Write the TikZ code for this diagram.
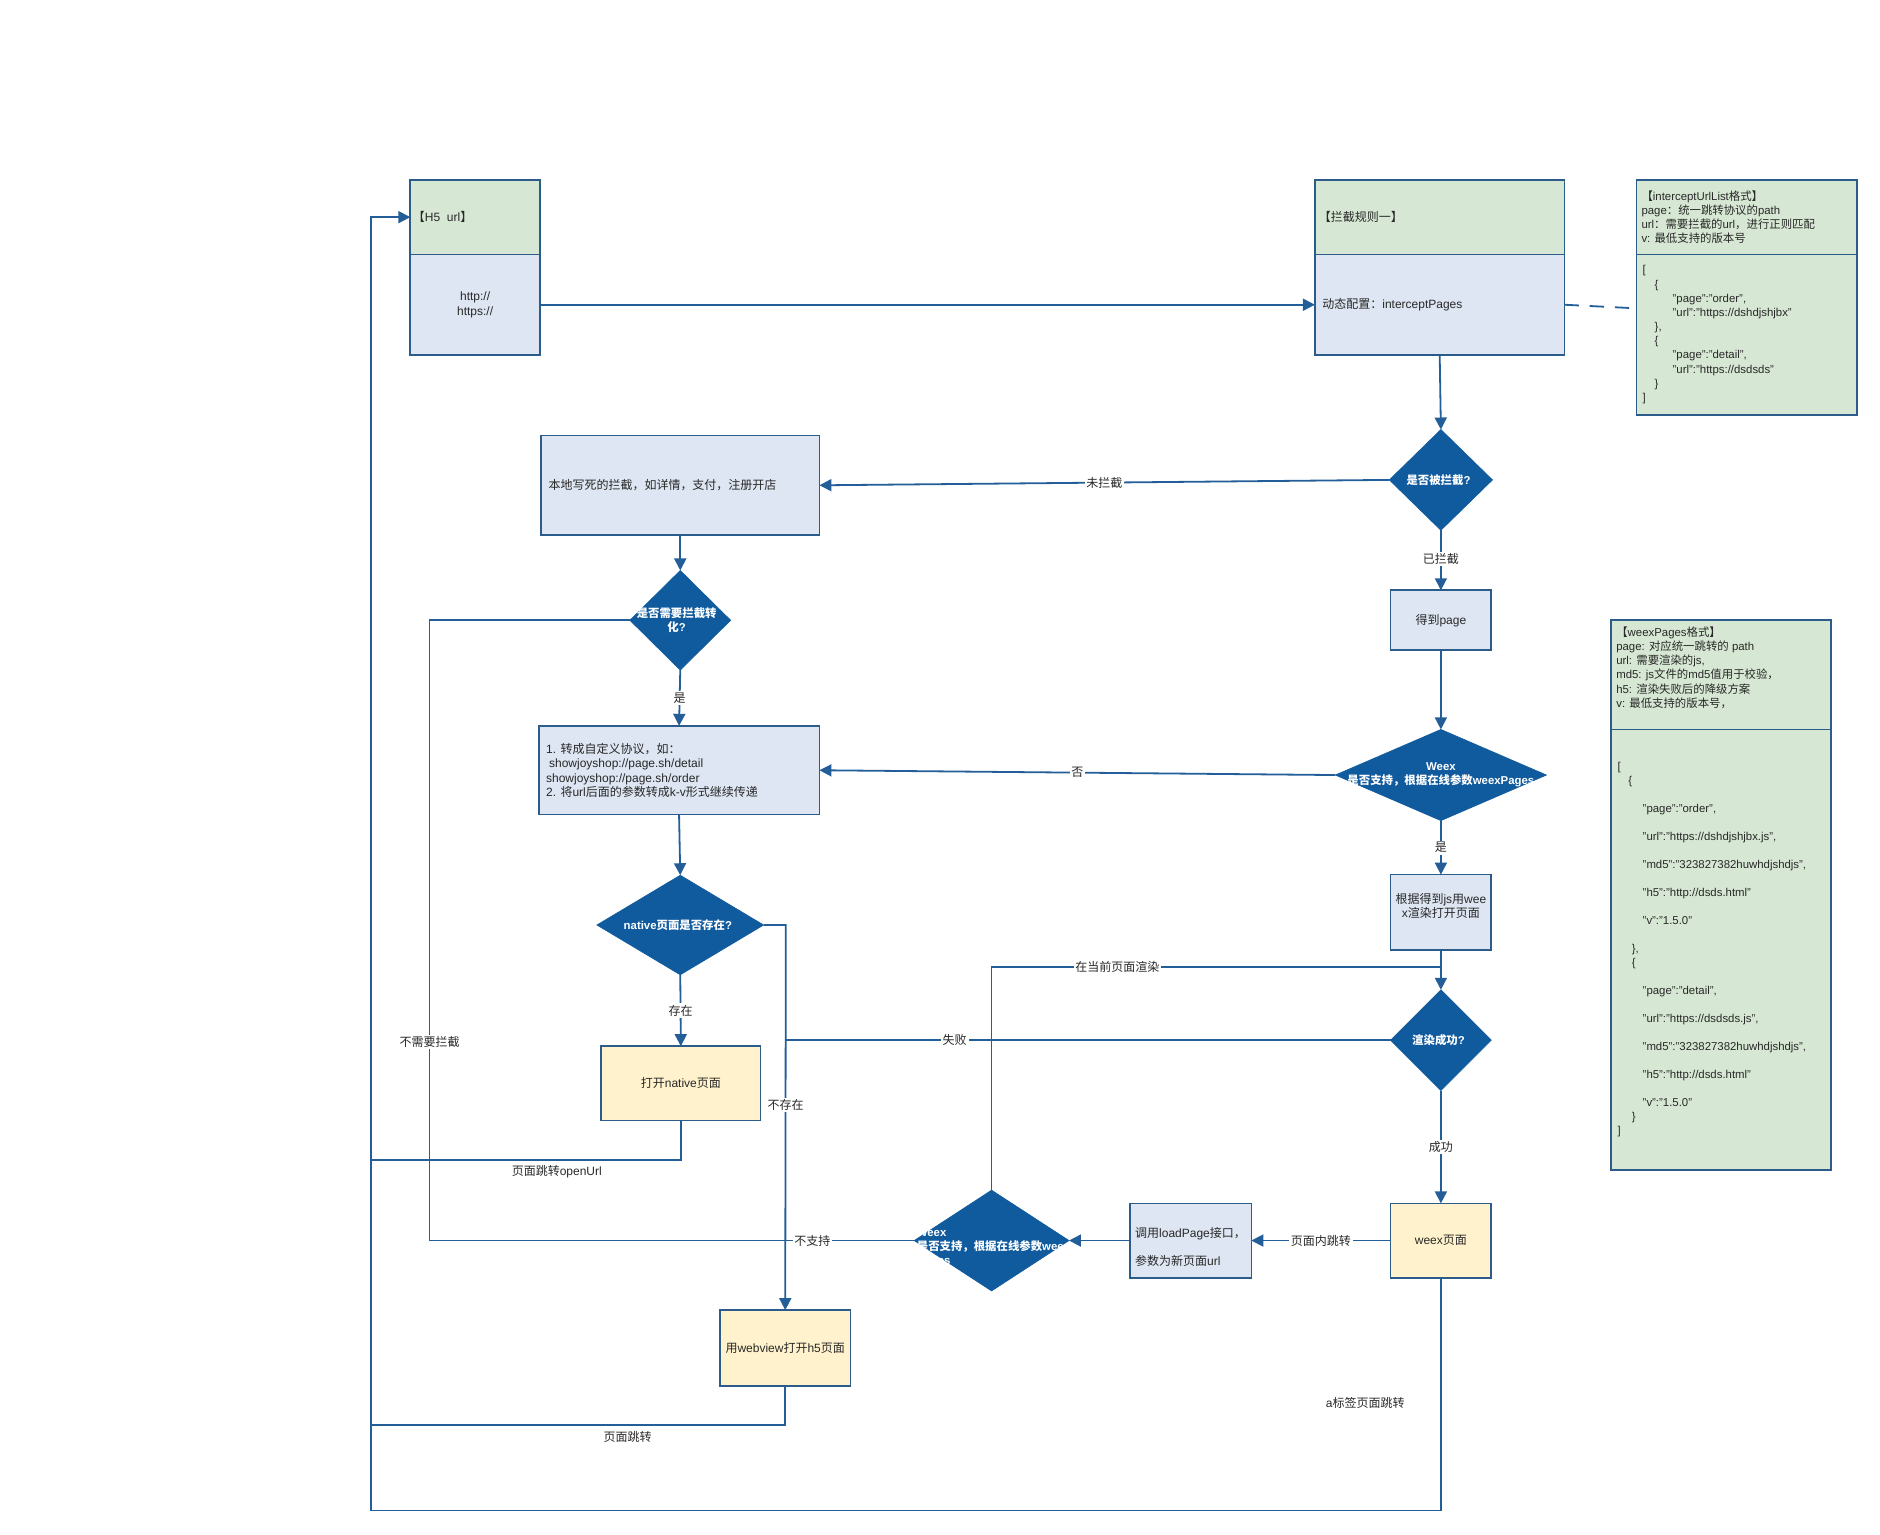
\documentclass[tikz,border=0pt]{standalone}
\usepackage{fontspec}
\setmainfont{Liberation Sans}
\newfontfamily\cjk{Noto Sans CJK SC}
\newcommand{\zhc}[1]{{\cjk #1}}
\usetikzlibrary{shapes.geometric,arrows.meta}
\definecolor{lc}{RGB}{35,94,153}
\definecolor{bc}{RGB}{44,92,138}
\definecolor{dfill}{RGB}{16,90,158}
\definecolor{bluef}{RGB}{221,230,242}
\definecolor{greenf}{RGB}{214,232,211}
\definecolor{yellowf}{RGB}{255,242,204}
\definecolor{txt}{RGB}{40,40,40}
\begin{document}
\begin{tikzpicture}[x=1pt,y=-1pt,
  box/.style={draw=bc, line width=1.4pt, inner sep=0pt, outer sep=0pt, text=txt, align=center, font=\fontsize{10}{12}\selectfont},
  bluebox/.style={box, fill=bluef},
  greenbox/.style={box, fill=greenf},
  yelbox/.style={box, fill=yellowf},
  dia/.style={diamond, fill=dfill, draw=dfill, line width=0.5pt, inner sep=0pt, outer sep=0pt},
  dtext/.style={text=white, font=\bfseries\fontsize{9.5}{12}\selectfont, align=center, inner sep=0pt},
  conn/.style={draw=lc, line width=1.5pt},
  arr/.style={conn, -{Triangle[length=10pt,width=10pt]}},
  lbl/.style={fill=white, inner sep=1.5pt, text=txt, font=\fontsize{10}{12}\selectfont},
  plain/.style={inner sep=1pt, text=txt, font=\fontsize{10}{12}\selectfont},
  tl/.style={text=txt, inner sep=0pt, align=left, anchor=west, font=\fontsize{10}{12}\selectfont},
  small/.style={tl, font=\fontsize{9.5}{11.8}\selectfont}
]
\useasboundingbox (0,0) rectangle (1567,1279.4);

% ---------- top row ----------
\node[greenbox, minimum width=108pt, minimum height=62pt] (h5head) at (396,181) {};
\node[bluebox, minimum width=108pt, minimum height=84pt] (h5body) at (396,254) {http://\\https://};
\node[tl] (h5t) at (344,181) {\zhc{【}H5~ url\zhc{】}};

\node[greenbox, minimum width=208pt, minimum height=62pt] (rulehead) at (1200,181) {};
\node[bluebox, minimum width=208pt, minimum height=84pt] (rulebody) at (1200,254) {};
\node[tl] (rulet) at (1099,181) {\zhc{【拦截规则一】}};
\node[tl] (ruleb) at (1102,254) {\zhc{动态配置：}interceptPages};

\node[greenbox, minimum width=184pt, minimum height=62pt] (listhead) at (1456,181) {};
\node[greenbox, minimum width=184pt, minimum height=134pt] (listbody) at (1456,279) {};
\node[small] (listht) at (1368,181) {\zhc{【}interceptUrlList\zhc{格式】}\\page\zhc{：统一跳转协议的}path\\url\zhc{：需要拦截的}url\zhc{，进行正则匹配}\\v: \zhc{最低支持的版本号}};
\node[small] (listbt) at (1369,279) {[\\\hspace*{10pt}\{\\\hspace*{25pt}"page":"order",\\\hspace*{25pt}"url":"https://dshdjshjbx"\\\hspace*{10pt}\},\\\hspace*{10pt}\{\\\hspace*{25pt}"page":"detail",\\\hspace*{25pt}"url":"https://dsdsds"\\\hspace*{10pt}\}\\]};

% ---------- weexPages format box ----------
\node[greenbox, minimum width=183pt, minimum height=91pt] (fmthead) at (1434.5,562.5) {};
\node[greenbox, minimum width=183pt, minimum height=367pt] (fmtbody) at (1434.5,791.5) {};
\node[small] (fmtht) at (1347,556.5) {\zhc{【}weexPages\zhc{格式】}\\page: \zhc{对应统一跳转的} path\\url: \zhc{需要渲染的}js,\\md5: js\zhc{文件的}md5\zhc{值用于校验}\zhc{，}\\h5: \zhc{渲染失败后的降级方案}\\v: \zhc{最低支持的版本号}\zhc{，}};
\node[tl, font=\fontsize{9.5}{11.65}\selectfont] (fmtbt) at (1348,791.5) {[\\\hspace*{9pt}\{\\[11.65pt]\hspace*{21pt}"page":"order",\\[11.65pt]\hspace*{21pt}"url":"https://dshdjshjbx.js",\\[11.65pt]\hspace*{21pt}"md5":"323827382huwhdjshdjs",\\[11.65pt]\hspace*{21pt}"h5":"http://dsds.html"\\[11.65pt]\hspace*{21pt}"v":"1.5.0"\\[11.65pt]\hspace*{12pt}\},\\\hspace*{12pt}\{\\[11.65pt]\hspace*{21pt}"page":"detail",\\[11.65pt]\hspace*{21pt}"url":"https://dsdsds.js",\\[11.65pt]\hspace*{21pt}"md5":"323827382huwhdjshdjs",\\[11.65pt]\hspace*{21pt}"h5":"http://dsds.html"\\[11.65pt]\hspace*{21pt}"v":"1.5.0"\\\hspace*{12pt}\}\\]};

% ---------- flow nodes ----------
\node[dia, minimum width=86pt, minimum height=84pt] (d1) at (1201,400) {};
\node[dtext] at (1199,400) {\zhc{是否被拦截}?};

\node[bluebox, minimum width=232pt, minimum height=83pt] (local) at (567,404.5) {};
\node[tl] (localt) at (457,404) {\zhc{本地写死的拦截，如详情，支付，注册开店}};

\node[dia, minimum width=84pt, minimum height=83pt] (d2) at (567,517) {};
\node[dtext] at (564,517) {\zhc{是否需要拦截转}\\\zhc{化}?};

\node[bluebox, minimum width=84pt, minimum height=50pt] (getpage) at (1201,517) {\zhc{得到}page};

\node[dia, minimum width=176pt, minimum height=76pt] (weex1) at (1201,646) {};
\node[dtext] at (1201,646) {Weex\\\zhc{是否支持，根据在线参数}weexPages};

\node[bluebox, minimum width=234pt, minimum height=74pt] (conv) at (566,642) {};
\node[tl] (convt) at (455,642) {1. \zhc{转成自定义协议，如：}\\\hspace*{2.5pt}showjoyshop://page.sh/detail\\showjoyshop://page.sh/order\\2. \zhc{将}url\zhc{后面的参数转成}k-v\zhc{形式继续传递}};

\node[dia, minimum width=139pt, minimum height=83pt] (native) at (567,771) {};
\node[dtext] at (565,771) {native\zhc{页面是否存在}?};

\node[yelbox, minimum width=133pt, minimum height=62pt] (opennative) at (567.5,903) {\zhc{打开}native\zhc{页面}};

\node[bluebox, minimum width=84pt, minimum height=63pt] (render) at (1201,760.5) {};
\node[plain, align=center, inner sep=0pt] (rendert) at (1201,755) {\zhc{根据得到}js\zhc{用}wee\\x\zhc{渲染打开页面}};

\node[dia, minimum width=84pt, minimum height=84pt] (drender) at (1201,867) {};
\node[dtext] at (1199,867) {\zhc{渲染成功}?};

\node[yelbox, minimum width=84pt, minimum height=62pt] (weexpage) at (1201,1034) {weex\zhc{页面}};

\node[bluebox, minimum width=101pt, minimum height=62pt] (loadpage) at (992.5,1034) {};
\node[tl] (loadt) at (946,1039.5) {\zhc{调用}loadPage\zhc{接口，}\\[11pt]\zhc{参数为新页面}url};

\node[dia, minimum width=129pt, minimum height=84pt] (weex2) at (826.5,1034) {};
\node[dtext, align=left, anchor=west] at (764,1040) {Weex\\\zhc{是否支持，根据在线参数}weex\\Pages};

\node[yelbox, minimum width=109pt, minimum height=63pt] (webview) at (654.5,1123.5) {\zhc{用}webview\zhc{打开}h5\zhc{页面}};

% ---------- helper coordinates ----------
\coordinate (bl) at (309,1259);
\coordinate (j1) at (309,967);
\coordinate (j2) at (309,1188);
\coordinate (c1) at (358,1034);
\coordinate (j3) at (1201,806);
\coordinate (nx) at (655,771);

% ---------- connectors ----------
\draw[arr] (h5body.east) -- (rulebody.west);
\draw[conn, dash pattern=on 12pt off 9pt] (rulebody.east) -- ([yshift=-3pt]listbody.west |- rulebody.east);
\draw[arr] (rulebody.south) -- (d1.north);
\draw[arr] (d1.west) -- node[lbl, pos=0.5] {\zhc{未拦截}} (local.east);
\draw[arr] (d1.south) -- node[lbl, pos=0.48] {\zhc{已拦截}} (getpage.north);
\draw[arr] (getpage.south) -- (weex1.north);
\draw[arr] (weex1.west) -- node[lbl, pos=0.5] {\zhc{否}} (conv.east);
\draw[arr] (weex1.south) -- node[lbl, pos=0.5] {\zhc{是}} (render.north);
\draw[arr] (render.south) -- (drender.north);
\draw[arr] (local.south) -- (d2.north);
\draw[arr] (d2.south) -- node[lbl, pos=0.5] {\zhc{是}} (conv.north);
\draw[arr] (conv.south) -- (native.north);
\draw[arr] (native.south) -- node[lbl, pos=0.5] {\zhc{存在}} (opennative.north);
\draw[arr] (native.east) -- (nx) -- node[lbl, pos=0.467] {\zhc{不存在}} (webview.north);
\draw[conn] (drender.west) -- node[lbl, pos=0.72] {\zhc{失败}} (webview.north |- drender.west);
\draw[conn] (opennative.south) |- node[plain, below=3pt, pos=0.70] {\zhc{页面跳转}openUrl} (j1);
\draw[conn] (webview.south) |- node[plain, below=3pt, pos=0.69] {\zhc{页面跳转}} (j2);
\draw[arr] (weexpage.south) |- (bl) |- (h5head.west);
\node[plain] (alabel) at (1138,1169) {a\zhc{标签页面跳转}};
\draw[conn] (d2.west) -| node[lbl, pos=0.84] {\zhc{不需要拦截}} (c1) -- node[lbl, pos=0.79] {\zhc{不支持}} (weex2.west);
\draw[conn] (weex2.north) |- node[lbl, pos=0.64] {\zhc{在当前页面渲染}} (j3);
\draw[arr] (drender.south) -- node[lbl, pos=0.5] {\zhc{成功}} (weexpage.north);
\draw[arr] (weexpage.west) -- node[lbl, pos=0.5] {\zhc{页面内跳转}} (loadpage.east);
\draw[arr] (loadpage.west) -- (weex2.east);
\end{tikzpicture}
\end{document}
